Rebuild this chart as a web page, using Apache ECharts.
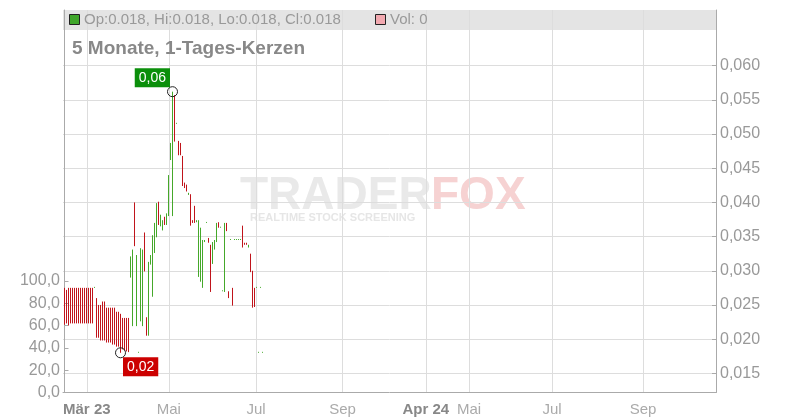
<!DOCTYPE html>
<html><head><meta charset="utf-8">
<script src="https://cdn.jsdelivr.net/npm/echarts@6/dist/echarts.min.js"></script>
<style>html,body{margin:0;padding:0;background:#fff}#c{width:800px;height:420px}</style>
</head><body><div id="c"></div>
<script>
// daily candles (trading-day index = array index)
const opens = [
0.0275,0.0272,0.0275,0.0275,0.0275,0.0275,0.0275,0.0275,0.0275,0.0275,
0.0275,0.0275,0.0275,0.0275,0.0275,0.0275,
0.0260,0.0250,0.0250,0.0255,0.0255,0.0246,0.0246,0.0246,0.0246,0.0246,
0.0240,0.0240,0.0237,0.0231,0.0231,0.0231,0.0231,
0.0290,0.0219,0.0400,0.0219,0.0180,0.0226,0.0219,0.0356,0.0232,0.0205,
0.0309,0.0262,0.0326,0.0349,0.0401,0.0365,0.0359,0.0379,0.0367,0.0380,
0.0462,0.0380,0.0557,0.0515,0.0490,0.0487,0.0468,0.0429,0.0426,0.0411,
0.0412,0.0374,0.0395,0.0371,0.0291,0.0284,0.0275,0.0342,0.0370,0.0348,
0.0338,0.0310,0.0331,0.0342,0.0371,0.0363,0.0270,0.0269,0.0370,0.0270,
0.0345,0.0275,0.0345,0.0345,0.0345,0.0345,0.0366,0.0341,0.0341,0.0334,
0.0325,0.0300,0.0275,0.0275,0.0180,0.0275,0.0180
];
const closes = [
0.0221,0.0223,0.0220,0.0223,0.0223,0.0223,0.0223,0.0223,0.0223,0.0223,
0.0223,0.0223,0.0223,0.0223,0.0223,0.0275,
0.0202,0.0202,0.0198,0.0198,0.0198,0.0195,0.0195,0.0195,0.0192,0.0192,
0.0189,0.0189,0.0180,0.0185,0.0183,0.0182,0.0181,
0.0321,0.0331,0.0336,0.0323,0.0180,0.0333,0.0331,0.0299,0.0205,0.0313,
0.0323,0.0352,0.0370,0.0399,0.0367,0.0382,0.0374,0.0367,0.0384,0.0440,
0.0487,0.0560,0.0489,0.0515,0.0469,0.0469,0.0424,0.0421,0.0416,0.0414,
0.0366,0.0370,0.0370,0.0374,0.0374,0.0363,0.0345,0.0345,0.0370,0.0341,
0.0269,0.0342,0.0345,0.0370,0.0363,0.0363,0.0270,0.0370,0.0358,0.0260,
0.0345,0.0249,0.0345,0.0345,0.0345,0.0345,0.0334,0.0338,0.0338,0.0338,
0.0298,0.0246,0.0247,0.0275,0.0180,0.0275,0.0180
];
const highs = [
0.0275,0.0272,0.0275,0.0275,0.0275,0.0275,0.0275,0.0275,0.0275,0.0275,
0.0275,0.0275,0.0275,0.0275,0.0275,0.02764,
0.0260,0.0250,0.0250,0.0255,0.0255,0.0246,0.0246,0.0246,0.0246,0.0246,
0.0240,0.0240,0.0237,0.0231,0.0231,0.0231,0.0231,
0.0321,0.0331,0.0400,0.0323,0.01814,0.0333,0.0331,0.0356,0.0232,0.0313,
0.0323,0.0352,0.0370,0.0399,0.0401,0.0382,0.0374,0.0379,0.0384,0.0440,
0.0487,0.0562,0.0557,0.05164,0.0490,0.0487,0.0468,0.0429,0.0426,0.0414,
0.0412,0.0374,0.0395,0.0374,0.0374,0.0363,0.0345,0.0345,0.03714,0.0348,
0.0338,0.0342,0.0345,0.0370,0.0371,0.03644,0.02714,0.0370,0.0370,0.0270,
0.03464,0.0275,0.03464,0.03464,0.03464,0.03464,0.0366,0.0341,0.0341,0.0338,
0.0325,0.0300,0.0275,0.02764,0.01814,0.02764,0.01814
];
const lows = [
0.0221,0.0223,0.0220,0.0223,0.0223,0.0223,0.0223,0.0223,0.0223,0.0223,
0.0223,0.0223,0.0223,0.0223,0.0223,0.0275,
0.0202,0.0202,0.0198,0.0198,0.0198,0.0195,0.0195,0.0195,0.0192,0.0192,
0.0189,0.0189,0.0180,0.0185,0.0183,0.0182,0.0181,
0.0290,0.0219,0.0336,0.0219,0.0180,0.0226,0.0219,0.0299,0.0205,0.0205,
0.0309,0.0262,0.0326,0.0349,0.0367,0.0365,0.0359,0.0367,0.0367,0.0380,
0.0462,0.0380,0.0489,0.0515,0.0469,0.0469,0.0424,0.0421,0.0416,0.0411,
0.0366,0.0370,0.0370,0.0371,0.0291,0.0284,0.0275,0.0342,0.0370,0.0341,
0.0269,0.0310,0.0331,0.0342,0.0363,0.0363,0.0270,0.0269,0.0358,0.0260,
0.0345,0.0249,0.0345,0.0345,0.0345,0.0345,0.0334,0.0338,0.0338,0.0334,
0.0298,0.0246,0.0247,0.0275,0.0180,0.0275,0.0180
];
const volumes = [
0,0,0,0,0,0,0,0,0,0, 0,0,0,0,0,0,0,0,0,0, 0,0,0,0,0,0,0,0,0,0,
0,0,0,0,0,0,0,0,0,0, 0,0,0,0,0,0,0,0,0,0, 0,0,0,0,0,0,0,0,0,0,
0,0,0,0,0,0,0,0,0,0, 0,0,0,0,0,0,0,0,0,0, 0,0,0,0,0,0,0,0,0,0,
0,0,0,0,0,0,0,0,0,0
];
const xTickValues = [11.15, 52.15, 95.75, 139.0, 180.65, 202.25, 243.75, 289.25];
const xTickLabels = ['Mär 23','Mai','Jul','Sep','Apr 24','Mai','Jul','Sep'];
const xTickYearStart = [true,false,false,false,true,false,false,false];
const priceTicks = [0.015,0.020,0.025,0.030,0.035,0.040,0.045,0.050,0.055,0.060];
const volumeTicks = [0,20,40,60,80,100];
const titleText = '5 Monate, 1-Tages-Kerzen';

const GREEN = '#45a82a', RED = '#c0141b';

const candleData = opens.map((o, i) => [i, o, closes[i], lows[i], highs[i]]);
const volData = volumes.map((v, i) => [i, v]);

let maxI = 0, minI = 0;
for (let i = 0; i < highs.length; i++) {
  if (highs[i] > highs[maxI]) maxI = i;
  if (lows[i] < lows[minI]) minI = i;
}
const last = opens.length - 1;
const fmt3 = v => v.toFixed(3);
const legendText = 'Op:' + fmt3(opens[last]) + ', Hi:' + fmt3(highs[last]) +
  ', Lo:' + fmt3(lows[last]) + ', Cl:' + fmt3(closes[last]);

const chart = echarts.init(document.getElementById('c'), null, {renderer: 'canvas'});
const FONT = 'Liberation Sans, Arial, sans-serif';

chart.setOption({
  animation: false,
  textStyle: {fontFamily: FONT},
  grid: {left: 63, right: 84, top: 10, bottom: 27.5, containLabel: false},
  title: {text: titleText, left: 67, top: 34,
    textStyle: {fontSize: 19, fontWeight: 'bold', color: '#888', fontFamily: FONT}},
  xAxis: {
    type: 'value', min: -0.75, max: 325.75,
    axisLine: {show: true, lineStyle: {color: '#aaa'}},
    axisTick: {show: false, customValues: xTickValues},
    splitLine: {show: true, lineStyle: {color: '#ddd'}},
    axisLabel: {customValues: xTickValues, margin: 10,
      formatter: function (v) {
        let k = 0, d = 1e9;
        xTickValues.forEach((t, j) => { if (Math.abs(t - v) < d) { d = Math.abs(t - v); k = j; } });
        return xTickYearStart[k] ? '{b|' + xTickLabels[k] + '}' : '{n|' + xTickLabels[k] + '}';
      },
      rich: {b: {fontWeight: 'bold', color: '#888', fontSize: 15, fontFamily: FONT},
             n: {color: '#aaa', fontSize: 15, fontFamily: FONT}}}
  },
  yAxis: [
    {type: 'value', position: 'left', min: 0, max: 343,
      axisLine: {show: true, lineStyle: {color: '#aaa'}},
      axisTick: {show: true, inside: true, length: 4, customValues: volumeTicks, lineStyle: {color: '#aaa'}},
      splitLine: {show: false},
      axisLabel: {customValues: volumeTicks, margin: 3, color: '#999', fontSize: 16, fontFamily: FONT,
        formatter: v => v.toFixed(1).replace('.', ',')}},
    {type: 'value', position: 'right', min: 0.01219, max: 0.06815,
      axisLine: {show: true, lineStyle: {color: '#aaa'}},
      axisTick: {show: true, inside: true, length: 4, customValues: priceTicks, lineStyle: {color: '#aaa'}},
      splitLine: {show: true, lineStyle: {color: '#ddd'}},
      axisLabel: {customValues: priceTicks, margin: 4, color: '#999', fontSize: 16, fontFamily: FONT,
        formatter: v => v.toFixed(3).replace('.', ',')}}
  ],
  graphic: [
    {type: 'rect', z: -10, shape: {x: 63, y: 10, width: 653, height: 20}, style: {fill: '#e4e4e4'}},
    {type: 'rect', z: 10, shape: {x: 69.5, y: 14.5, width: 10, height: 10}, style: {fill: '#3fa62a', stroke: '#222', lineWidth: 1}},
    {type: 'text', z: 10, x: 84, y: 20, style: {text: legendText, fill: '#999', font: '15px ' + FONT, verticalAlign: 'middle'}},
    {type: 'rect', z: 10, shape: {x: 375.5, y: 14.5, width: 10, height: 10}, style: {fill: '#f2a9b0', stroke: '#222', lineWidth: 1}},
    {type: 'text', z: 10, x: 390, y: 20, style: {text: 'Vol: ' + volumes[last], fill: '#999', font: '15px ' + FONT, verticalAlign: 'middle'}},
    {type: 'text', z: -5, x: 240, y: 196, style: {text: 'TRADER', fill: '#e9e9e9', font: 'bold 46px ' + FONT, verticalAlign: 'middle'}},
    {type: 'text', z: -5, x: 431, y: 196, style: {text: 'FOX', fill: '#f6d2d2', font: 'bold 46px ' + FONT, verticalAlign: 'middle'}},
    {type: 'text', z: -5, x: 250, y: 218, style: {text: 'REALTIME STOCK SCREENING', fill: '#e6e6e6', font: 'bold 11px ' + FONT, verticalAlign: 'middle'}}
  ],
  series: [
    {type: 'bar', yAxisIndex: 0, data: volData, barWidth: 1, silent: true, itemStyle: {color: '#f2a9b0'}},
    {type: 'candlestick', yAxisIndex: 1, data: candleData, encode: {x: 0, y: [1, 2, 3, 4]},
      barWidth: 1, silent: true, clip: true,
      itemStyle: {color: GREEN, color0: RED, borderColor: GREEN, borderColor0: RED,
        borderColorDoji: GREEN, borderWidth: 1}},
    {type: 'scatter', yAxisIndex: 1, symbol: 'circle', symbolSize: 10, z: 5, silent: true,
      itemStyle: {color: 'rgba(0,0,0,0)', borderColor: '#222', borderWidth: 1, opacity: 1},
      data: [
        {value: [maxI, highs[maxI]], label: {show: true, position: [3, 1], align: 'right', verticalAlign: 'bottom',
          formatter: highs[maxI].toFixed(2).replace('.', ','), color: '#fff', fontSize: 14, fontFamily: FONT,
          backgroundColor: '#0b8f0b', padding: [3, 4, 2, 4]}},
        {value: [minI, lows[minI]], label: {show: true, position: [8, 10], align: 'left', verticalAlign: 'top',
          formatter: lows[minI].toFixed(2).replace('.', ','), color: '#fff', fontSize: 14, fontFamily: FONT,
          backgroundColor: '#cc0000', padding: [3, 4, 2, 4]}}
      ]}
  ]
});
</script></body></html>
